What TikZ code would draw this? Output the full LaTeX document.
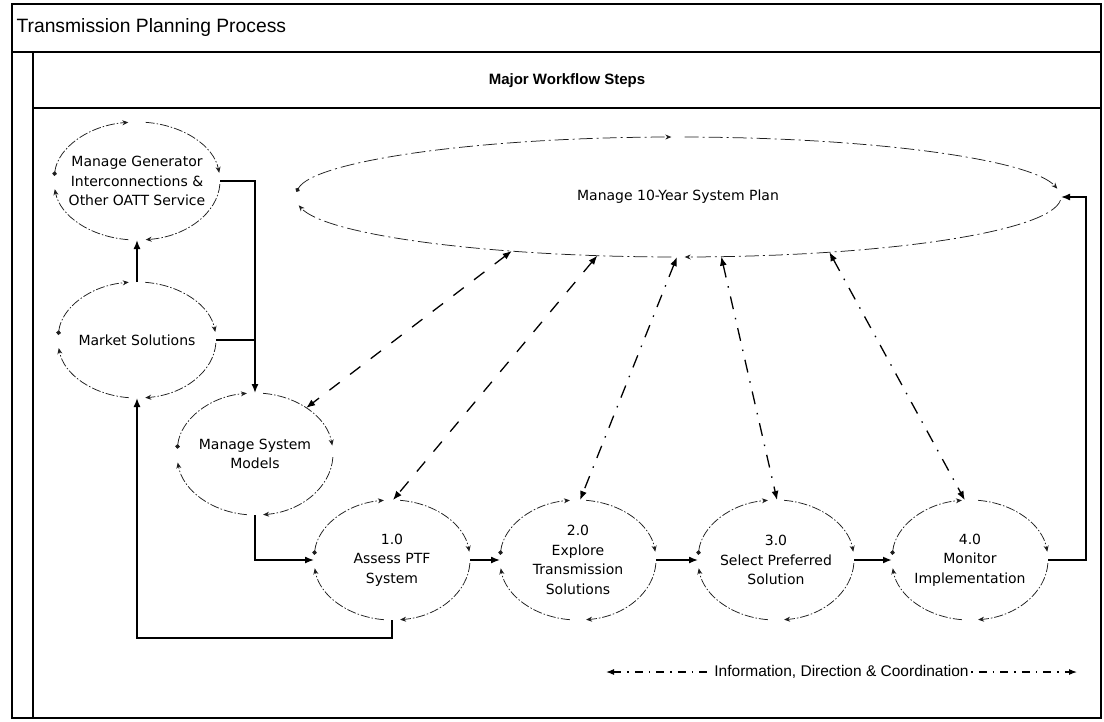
\documentclass[tikz,border=0pt]{standalone}
\usepackage{fontspec}
\setmainfont{DejaVu Sans}
\newfontfamily\arialfont{Liberation Sans}
\usepackage{tikz}
\usetikzlibrary{arrows.meta, calc, shapes.geometric}
\definecolor{inkgray}{HTML}{1E1E1E}

% four clockwise arcs with heads round an ellipse node (#5 = gap angle at top and bottom)
\newcommand{\ringarcs}[5][ring]{%
  \draw[#1, {Circle[length=4.5pt]}-{Stealth[length=6pt, width=5pt]}]
    ($(#2.center)+(175:#3 and #4)$) arc[start angle=175, end angle=90+#5, x radius=#3, y radius=#4];
  \draw[#1] ($(#2.center)+(90-#5:#3 and #4)$) arc[start angle=90-#5, end angle=8, x radius=#3, y radius=#4];
  \draw[#1] ($(#2.center)+(-3:#3 and #4)$) arc[start angle=-3, end angle=-90+#5, x radius=#3, y radius=#4];
  \draw[#1] ($(#2.center)+(-90-#5:#3 and #4)$) arc[start angle=-90-#5, end angle=-172, x radius=#3, y radius=#4];
}

\begin{document}
\begin{tikzpicture}[x=1pt, y=1pt,
    frame/.style={line width=1.5pt},
    bubble/.style={ellipse, inner sep=-30pt, outer sep=0pt, align=center,
                   font=\fontsize{14}{19.5}\selectfont},
    ring/.style={inkgray, line width=0.75pt,
                 dash pattern=on 9pt off 2pt on 1.5pt off 2pt,
                 -{Stealth[length=6pt, width=5pt]}},
    bigring/.style={ring, dash pattern=on 14pt off 4pt on 2pt off 4pt},
    flow/.style={line width=1.4pt, -{Latex[length=9pt, width=7pt]}},
    info/.style={line width=1.3pt, {Latex[length=9pt, width=7pt]}-{Latex[length=9pt, width=7pt]}},
    dashinfo/.style={info, dash pattern=on 13pt off 13pt},
    dotinfo/.style={info, dash pattern=on 13pt off 9pt on 1.5pt off 9pt}
  ]
    \useasboundingbox (0,0) rectangle (1104,-721);

    % swimlane frame
    \draw[frame] (12,-4) rectangle (1101,-718);
    \draw[frame] (12,-52) -- (1101,-52);
    \draw[frame] (33,-52) -- (33,-718);
    \draw[frame] (33,-108) -- (1101,-108);
    \node[anchor=west, font=\arialfont\fontsize{19.3}{21}\selectfont] (title) at (13,-28)
      {Transmission Planning Process};
    \node[font=\arialfont\bfseries\fontsize{15}{17}\selectfont] (lane) at (567,-81)
      {Major Workflow Steps};

    \node[bubble, minimum width=166, minimum height=118] (mgi) at (137,-181)
      {Manage Generator\\Interconnections \&\\Other OATT Service};
    \node[bubble, minimum width=158, minimum height=116] (mkt) at (137,-340) {Market Solutions};
    \node[bubble, minimum width=156, minimum height=122] (msm) at (255,-454)
      {Manage System\\Models};
    \node[bubble, minimum width=766, minimum height=120] (plan) at (678,-197)
      {Manage 10-Year System Plan};
    \node[bubble, minimum width=156, minimum height=120] (a1) at (392,-560)
      {1.0\\Assess PTF\\System};
    \node[bubble, minimum width=156, minimum height=120] (a2) at (578,-560)
      {2.0\\Explore\\Transmission\\Solutions};
    \node[bubble, minimum width=156, minimum height=120] (a3) at (776,-560)
      {3.0\\Select Preferred\\Solution};
    \node[bubble, minimum width=156, minimum height=120] (a4) at (970,-560)
      {4.0\\Monitor\\Implementation};

    \ringarcs{mgi}{83}{59}{6}
    \ringarcs{mkt}{79}{58}{6}
    \ringarcs{msm}{78}{61}{6}
    \ringarcs[bigring]{plan}{383}{60}{1}
    \ringarcs{a1}{78}{60}{6}
    \ringarcs{a2}{78}{60}{6}
    \ringarcs{a3}{78}{60}{6}
    \ringarcs{a4}{78}{60}{6}

    % workflow
    \draw[flow] (mkt.north) -- (mgi.south);
    \draw[flow] (mgi.east) -| (msm.north);
    \draw[line width=1.4pt] (mkt.east) -- (mkt.east -| msm.north);
    \draw[flow] (msm.south) |- (a1.west);
    \draw[flow] (a1.east) -- (a2.west);
    \draw[flow] (a2.east) -- (a3.west);
    \draw[flow, line width=2.2pt] (a3.east) -- (a4.west);
    \draw[flow] (a1.south) -- ++(0,-18) -| (mkt.south);
    \draw[flow] (a4.east) -- ++(38,0) |- (plan.east);

    % coordination links
    \draw[dashinfo] (plan.198) -- (msm.42);
    \draw[dashinfo] (plan.216) -- (a1.89);
    \draw[dotinfo] (plan.269) -- (a2.88);
    \draw[dotinfo] (plan.306) -- (a3.89);
    \draw[dotinfo] (plan.340) -- (a4.95);

    \coordinate (legL) at (606,-672);
    \coordinate (legR) at (1077,-672);
    \draw[line width=1.1pt, dash pattern=on 8pt off 6pt on 1.5pt off 6pt,
          {Latex[length=8pt, width=6pt]}-{Latex[length=8pt, width=6pt]}] (legL) -- (legR)
      node[midway, fill=white, inner sep=1pt, font=\arialfont\fontsize{15.5}{18}\selectfont] (legend)
      {Information, Direction \& Coordination};
  \end{tikzpicture}
\end{document}
